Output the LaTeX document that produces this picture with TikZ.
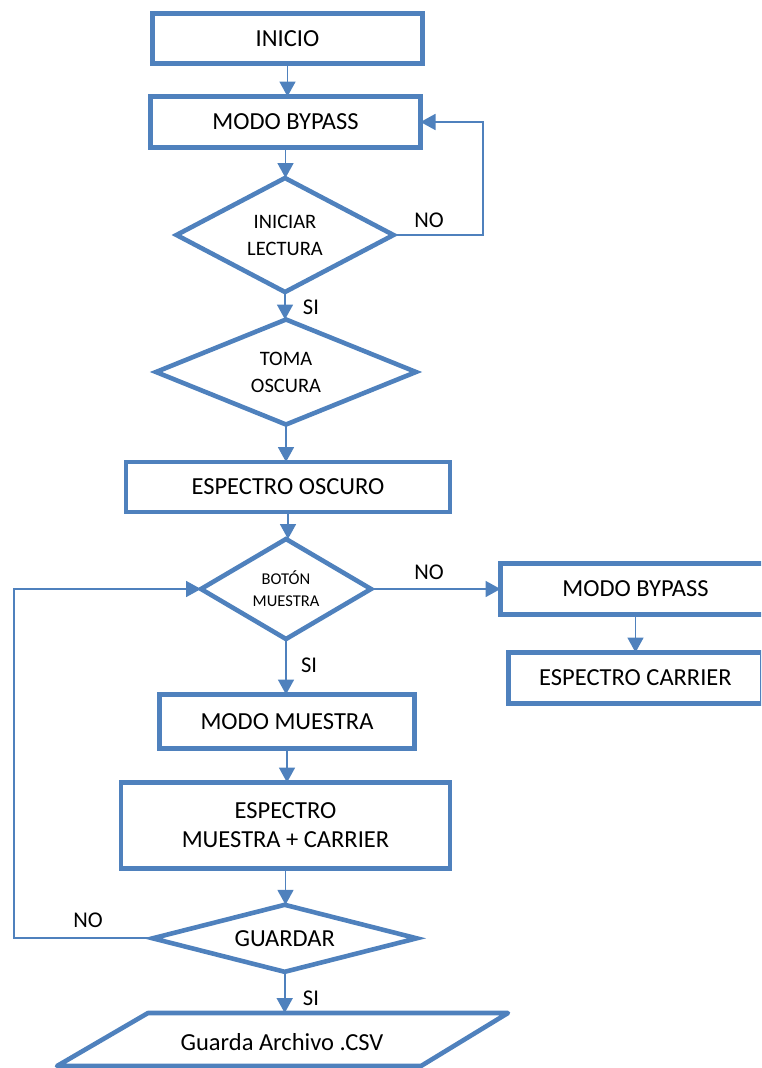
\documentclass[tikz,border=0pt]{standalone}
\usepackage{fontspec}
\setmainfont{Carlito}
\usetikzlibrary{shapes.geometric,arrows.meta}
\definecolor{fblue}{RGB}{79,129,189}
\begin{document}
\begin{tikzpicture}[x=1pt,y=-1pt,
  box/.style={draw=fblue,line width=4.6pt,rectangle,inner sep=0pt,outer sep=0pt,align=center,
    font=\fontsize{24.5}{29}\selectfont},
  dia/.style={draw=fblue,line width=4.6pt,diamond,inner sep=0pt,outer sep=0pt,align=center,
    font=\fontsize{20.5}{27}\selectfont},
  arr/.style={draw=fblue,line width=1.8pt,-{Triangle[length=15pt,width=16pt]}},
  lbl/.style={font=\fontsize{22.5}{27}\selectfont,inner sep=0pt}]
\useasboundingbox (0,0) rectangle (761,1068);
\clip (0,0) rectangle (761,1068);
\node[box,minimum width=270pt,minimum height=50pt] (inicio) at (287.5,38.5) {INICIO};
\node[box,minimum width=270pt,minimum height=51pt] (bp1) at (285.5,122) {MODO BYPASS};
\node[dia,shape aspect=1.9,minimum width=217pt,minimum height=114pt] (d1) at (285,235) {INICIAR\\LECTURA};
\node[dia,shape aspect=2.48,minimum width=260pt,minimum height=105pt] (d2) at (286,372) {TOMA\\OSCURA};
\node[box,minimum width=324pt,minimum height=50pt] (osc) at (288,487) {ESPECTRO OSCURO};
\node[dia,shape aspect=1.7,minimum width=170pt,minimum height=100pt,font=\fontsize{16.5}{22}\selectfont] (d3) at (286,589) {BOTÓN\\MUESTRA};
\node[box,minimum width=270pt,minimum height=51pt] (bp2) at (635.5,589) {MODO BYPASS};
\node[box,minimum width=254pt,minimum height=51pt] (car) at (635.5,678) {ESPECTRO CARRIER};
\node[box,minimum width=255pt,minimum height=54pt] (mm) at (287,721.5) {MODO MUESTRA};
\node[box,minimum width=329pt,minimum height=86pt] (emc) at (285.5,825.5) {ESPECTRO\\MUESTRA + CARRIER};
\node[dia,shape aspect=3.94,minimum width=264pt,minimum height=67pt,font=\fontsize{24.5}{29}\selectfont] (d4) at (284.7,938.3) {GUARDAR};
% parallelogram
\draw[fblue,line width=4.6pt,line join=round] (148,1013) -- (508,1013) -- (421,1066) -- (57,1066) -- cycle;
\node[font=\fontsize{24.5}{29}\selectfont,inner sep=0pt] (csv) at (282,1042) {Guarda Archivo .CSV};
\coordinate (csvtop) at (284.7,1013);
% connectors
\draw[arr] (inicio.south) -- (inicio.south |- bp1.north);
\draw[arr] (bp1.south) -- (bp1.south |- d1.north);
\draw[arr] (d1.south) -- (d1.south |- d2.north);
\draw[arr] (d2.south) -- (d2.south |- osc.north);
\draw[arr] (osc.south) -- (osc.south |- d3.north);
\draw[arr] (d3.south) -- (d3.south |- mm.north);
\draw[arr] (mm.south) -- (mm.south |- emc.north);
\draw[arr] (emc.south) -- (emc.south |- d4.north);
\draw[arr] (d4.south) -- (csvtop);
\draw[arr] (d3.east) -- (bp2.west);
\draw[arr] (bp2.south) -- (car.north);
\coordinate (lx) at (483,0);
\coordinate (rx) at (14,0);
\draw[arr] (d1.east) -- (d1.east -| lx) |- (bp1.east);
\draw[arr] (d4.west) -- (d4.west -| rx) |- (d3.west);
% labels
\node[lbl] (no1) at (429,220) {NO};
\node[lbl] (si1) at (311,307) {SI};
\node[lbl] (no2) at (429,572) {NO};
\node[lbl] (si2) at (309,665) {SI};
\node[lbl] (no3) at (88,920) {NO};
\node[lbl] (si3) at (311,998) {SI};
\end{tikzpicture}
\end{document}
